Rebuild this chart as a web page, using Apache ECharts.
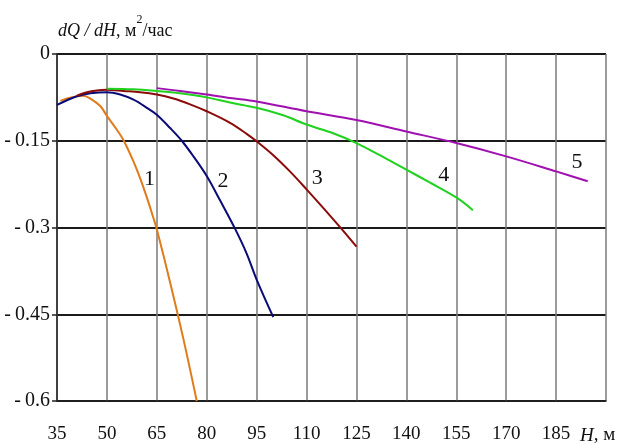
<!DOCTYPE html>
<html><head><meta charset="utf-8">
<script src="https://cdn.jsdelivr.net/npm/echarts@6/dist/echarts.min.js"></script>
<style>html,body{margin:0;padding:0;background:#fff}#c{width:620px;height:444px}</style>
</head><body><div id="c"></div>
<script>
// ---- data ----
const xTicks = [35, 50, 65, 80, 95, 110, 125, 140, 155, 170, 185, 200];
const yTicks = [0, -0.15, -0.3, -0.45, -0.6];

const h1 = [36, 38, 41, 43, 45, 48, 50, 53, 55, 58, 60, 62, 64, 65, 69, 73, 77];
const v1 = [-0.081, -0.077, -0.073, -0.072, -0.077, -0.090, -0.107, -0.131, -0.149, -0.186, -0.215, -0.248, -0.284, -0.303, -0.395, -0.493, -0.600];

const h2 = [35, 38, 41, 45, 50, 54, 58, 62, 65, 69, 72.5, 76, 80, 84, 88.5, 92, 95, 100];
const v2 = [-0.088, -0.080, -0.073, -0.068, -0.066, -0.070, -0.079, -0.093, -0.105, -0.128, -0.150, -0.177, -0.211, -0.253, -0.302, -0.345, -0.390, -0.455];

const h3 = [41, 44, 47, 50, 55, 60, 65, 70, 75, 80, 87, 92, 95, 100, 105, 110, 115, 120, 125];
const v3 = [-0.072, -0.066, -0.063, -0.062, -0.064, -0.066, -0.070, -0.077, -0.087, -0.099, -0.119, -0.138, -0.151, -0.175, -0.203, -0.234, -0.266, -0.299, -0.333];

const h4 = [50, 58, 65, 72, 80, 87, 95, 103, 110, 118, 125, 132, 140, 147, 155, 160];
const v4 = [-0.060, -0.061, -0.064, -0.068, -0.075, -0.084, -0.093, -0.106, -0.122, -0.137, -0.154, -0.175, -0.200, -0.222, -0.248, -0.270];

const h5 = [65, 72, 80, 87, 95, 110, 125, 140, 155, 170, 185, 194.5];
const v5 = [-0.059, -0.064, -0.070, -0.076, -0.082, -0.099, -0.114, -0.134, -0.154, -0.177, -0.203, -0.220];

const curveNames = ['1', '2', '3', '4', '5'];
const labelH = [62.8, 84.9, 113.2, 151.2, 191.3];
const labelV = [-0.217, -0.220, -0.214, -0.209, -0.187];

const colors = ['#E07B1A', '#0A0A78', '#8B0A0A', '#1ED21E', '#A010B0'];
const serif = '"Liberation Serif","Times New Roman",serif';

const hs = [h1, h2, h3, h4, h5];
const vs = [v1, v2, v3, v4, v5];

const series = hs.map((h, i) => ({
  name: curveNames[i],
  type: 'line',
  smooth: 0.35,
  showSymbol: false,
  data: h.map((x, k) => [x, vs[i][k]]),
  lineStyle: { color: colors[i], width: 2 },
  itemStyle: { color: colors[i] },
  z: 3 + i,
  markPoint: {
    symbol: 'circle', symbolSize: 0,
    data: [{ coord: [labelH[i], labelV[i]] }],
    label: { show: true, position: 'inside', formatter: curveNames[i],
      color: '#111', fontFamily: serif, fontSize: 22 }
  }
}));

const chart = echarts.init(document.getElementById('c'), null, { renderer: 'canvas' });
chart.setOption({
  animation: false,
  backgroundColor: '#fff',
  grid: { left: 57, right: 14, top: 54, bottom: 42, containLabel: false },
  xAxis: {
    type: 'value', min: xTicks[0], max: xTicks[xTicks.length - 1], interval: 15,
    axisLine: { show: true, onZero: false, lineStyle: { color: '#222', width: 1.5 } },
    axisTick: { show: false },
    splitLine: { show: true, lineStyle: { color: '#7a7a7a', width: 1.5 } },
    axisLabel: {
      margin: 24, color: '#111', fontFamily: serif, fontSize: 19,
      formatter: v => (v === 200 ? '' : String(v))
    }
  },
  yAxis: {
    type: 'value', min: yTicks[yTicks.length - 1], max: yTicks[0], interval: 0.15,
    axisLine: { show: true, onZero: false, lineStyle: { color: '#222', width: 1.5 } },
    axisTick: { show: true, inside: false, length: 5, lineStyle: { color: '#222', width: 1.5 } },
    splitLine: { show: true, lineStyle: { color: '#1a1a1a', width: 1.8 } },
    axisLabel: {
      margin: 7, color: '#111', fontFamily: serif, fontSize: 20,
      formatter: v => (v === 0 ? '0' : String(+v.toFixed(2)).replace('-', '-\u2009'))
    }
  },
  graphic: [
    {
      type: 'text', left: 58, top: 14, z: 10,
      style: {
        text: '{i|dQ / dH}{n|, м}{s|2}{n|/час}',
        fontFamily: serif, fontSize: 18, fill: '#111',
        rich: {
          i: { fontFamily: serif, fontSize: 18, fontStyle: 'italic', fill: '#111', lineHeight: 26, verticalAlign: 'bottom' },
          n: { fontFamily: serif, fontSize: 18, fill: '#111', lineHeight: 26, verticalAlign: 'bottom' },
          s: { fontFamily: serif, fontSize: 12, fill: '#111', lineHeight: 26, verticalAlign: 'top' }
        }
      }
    },
    {
      type: 'text', left: 580, top: 426, z: 10,
      style: {
        text: '{i|H}{n|, м}',
        fontFamily: serif, fontSize: 19, fill: '#111',
        rich: {
          i: { fontFamily: serif, fontSize: 19, fontStyle: 'italic', fill: '#111' },
          n: { fontFamily: serif, fontSize: 19, fill: '#111' }
        }
      }
    }
  ],
  series: series
});
</script></body></html>
